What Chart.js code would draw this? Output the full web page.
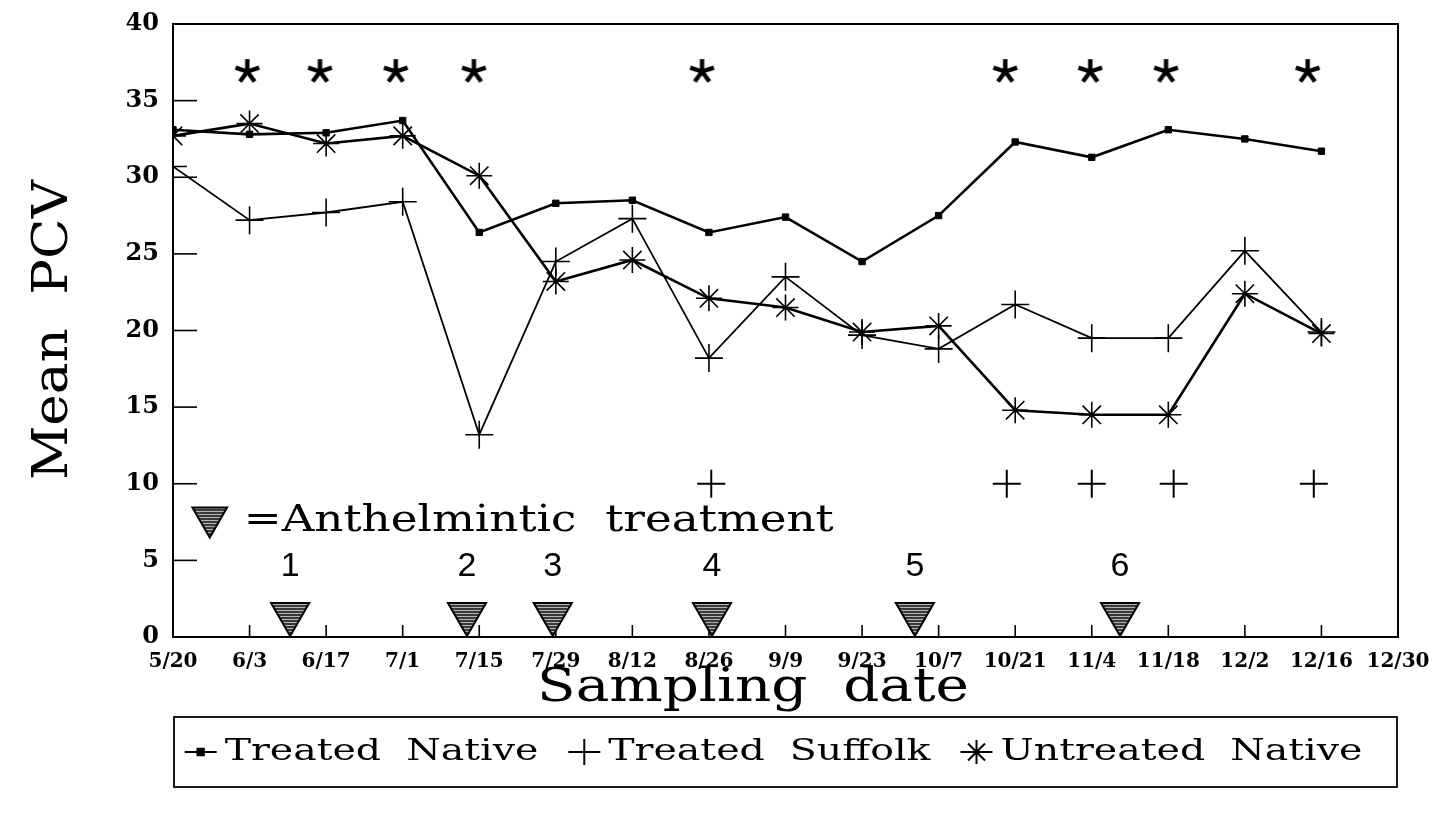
<!DOCTYPE html>
<html><head><meta charset="utf-8">
<script src="https://cdn.jsdelivr.net/npm/chart.js@4.4.1/dist/chart.umd.min.js"></script>
<style>html,body{margin:0;padding:0;background:#fff;overflow:hidden}</style>
</head><body>
<canvas id="c" width="1441" height="816" style="display:block;width:1441px;height:816px"></canvas>
<script>
// ---------- data ----------
const dateLabels = ['5/20','6/3','6/17','7/1','7/15','7/29','8/12','8/26','9/9','9/23','10/7','10/21','11/4','11/18','12/2','12/16','12/30'];
const treatedNative   = [33.1,32.8,32.9,33.7,26.4,28.3,28.5,26.4,27.4,24.5,27.5,32.3,31.3,33.1,32.5,31.7];
const treatedSuffolk  = [30.7,27.2,27.7,28.4,13.2,24.5,27.3,18.2,23.5,19.7,18.8,21.7,19.5,19.5,25.2,19.9];
const untreatedNative = [32.7,33.5,32.2,32.7,30.1,23.2,24.6,22.1,21.5,19.9,20.3,14.8,14.5,14.5,22.4,19.8];
const sigStarPos = [0.97,1.92,2.91,3.93,6.91,10.87,11.98,12.97,14.82];
const sigStarY = 36.9;
const sigPlusPos = [7.03,10.89,12.0,13.07,14.9];
const sigPlusY = 10;
const treatPos = [1.53,3.84,4.96,7.04,9.69,12.37];
const treatNums = ['1','2','3','4','5','6'];
const treatY = 1.5;
const treatNumY = 4.6;
const noteMarkerPos = 0.48;
const noteMarkerY = 7.8;
const noteText = '=Anthelmintic  treatment';
const yTicks = [0,5,10,15,20,25,30,35,40];
const seriesNames = ['Treated  Native','Treated  Suffolk','Untreated  Native'];

// ---------- helpers ----------
const cv = document.getElementById('c');
const ctx0 = cv.getContext('2d');
const pc = document.createElement('canvas'); pc.width = 4; pc.height = 3;
const pg = pc.getContext('2d');
pg.fillStyle = '#3a3a3a'; pg.fillRect(0,0,4,3);
pg.fillStyle = '#b5b5b5'; pg.fillRect(0,1,4,1);
const hatch = ctx0.createPattern(pc, 'repeat');

function makeAsterisk(size){
  const c = document.createElement('canvas'); c.width = c.height = size;
  const g = c.getContext('2d'); g.translate(size/2, size/2);
  g.strokeStyle = '#000'; g.lineWidth = 4.4; g.lineCap = 'butt';
  for (let k = 0; k < 5; k++) {
    const a = -Math.PI/2 + k*2*Math.PI/5;
    g.beginPath(); g.moveTo(0,0); g.lineTo(Math.cos(a)*size*0.46, Math.sin(a)*size*0.46); g.stroke();
  }
  return c;
}
const asteriskImg = makeAsterisk(27);

const toXY = (arr) => arr.map((v,i)=>({x:i, y:v}));
const FONT = 'DejaVu Serif';

function fitText(ctx, text, x, y, font, targetW, align, rot) {
  ctx.save();
  ctx.font = font;
  const w = ctx.measureText(text).width;
  const s = targetW ? targetW / w : 1;
  ctx.translate(x, y);
  if (rot) ctx.rotate(rot);
  ctx.scale(s, 1);
  ctx.textAlign = align || 'center';
  ctx.fillText(text, 0, 0);
  ctx.restore();
  return w * s;
}

const decorPlugin = {
  id: 'decor',
  beforeDatasetsDraw(chart) {
    const {ctx, chartArea:a, scales:{x, y}} = chart;
    ctx.save();
    ctx.strokeStyle = '#000'; ctx.lineWidth = 2;
    ctx.beginPath();
    ctx.moveTo(a.left, a.top); ctx.lineTo(a.right, a.top); ctx.lineTo(a.right, a.bottom);
    ctx.stroke();
    ctx.lineWidth = 1.6;
    for (let i = 1; i < dateLabels.length - 1; i++) {
      const px = x.getPixelForValue(i);
      ctx.beginPath(); ctx.moveTo(px, a.bottom); ctx.lineTo(px, a.bottom - 12); ctx.stroke();
    }
    yTicks.slice(1, -1).forEach(v => {
      const py = y.getPixelForValue(v);
      ctx.beginPath(); ctx.moveTo(a.left, py); ctx.lineTo(a.left + 24, py); ctx.stroke();
    });
    ctx.restore();
  },
  afterDraw(chart) {
    const {ctx, chartArea:a, scales:{x, y}} = chart;
    ctx.save();
    ctx.fillStyle = '#000';
    // axis titles
    ctx.textBaseline = 'middle';
    fitText(ctx, 'Mean  PCV', 55, 330, '48px ' + FONT, 300, 'center', -Math.PI/2);
    ctx.textBaseline = 'alphabetic';
    fitText(ctx, 'Sampling  date', 753, 701, '46px ' + FONT, 432, 'center');
    // note
    fitText(ctx, noteText, x.getPixelForValue(noteMarkerPos) + 34, y.getPixelForValue(noteMarkerY) + 14, '38px ' + FONT, 590, 'left');
    // treatment numbers
    ctx.textBaseline = 'middle';
    treatPos.forEach((p, i) => {
      fitText(ctx, treatNums[i], x.getPixelForValue(p), y.getPixelForValue(treatNumY), '34px Liberation Sans', 0, 'center');
    });
    // legend
    const boxL = a.left + 1, boxR = a.right - 1, boxT = 717, boxB = 787;
    ctx.strokeStyle = '#000'; ctx.lineWidth = 1.8;
    ctx.strokeRect(boxL, boxT, boxR - boxL, boxB - boxT);
    const cy = (boxT + boxB) / 2;
    const font = '29px ' + FONT;
    const sx = 1.36;
    ctx.font = font;
    const items = chart.data.datasets.slice(0,3).map((ds, i) => ({ds, w: ctx.measureText(seriesNames[i]).width * sx}));
    const markW = 32, gapM = 8, gapI = 30;
    const total = items.reduce((s, it) => s + markW + gapM + it.w, 0) + gapI * (items.length - 1);
    let cx = (boxL + boxR) / 2 - total / 2 - 12;
    items.forEach((it, i) => {
      const ds = it.ds;
      ctx.strokeStyle = '#000'; ctx.lineWidth = 2;
      ctx.beginPath(); ctx.moveTo(cx, cy); ctx.lineTo(cx + markW, cy); ctx.stroke();
      Chart.helpers.drawPoint(ctx, {pointStyle: ds.pointStyle, radius: ds.legendRadius, rotation: 0, borderWidth: ds.pointBorderWidth}, cx + markW/2, cy);
      if (ds.pointStyle === 'rect') { ctx.fillStyle = '#000'; ctx.fill(); }
      ctx.fillStyle = '#000';
      ctx.textBaseline = 'middle';
      fitText(ctx, seriesNames[i], cx + markW + gapM, cy, font, it.w, 'left');
      cx += markW + gapM + it.w + gapI;
    });
    ctx.restore();
  }
};

const lineBase = {type:'line', borderColor:'#000', pointBorderColor:'#000', pointBackgroundColor:'#000', tension:0, fill:false};

new Chart(ctx0, {
  data: {
    datasets: [
      Object.assign({}, lineBase, {label:'Treated Native', data: toXY(treatedNative), borderWidth:2.6, pointStyle:'rect', pointRadius:4.5, pointBorderWidth:1, legendRadius:4.5}),
      Object.assign({}, lineBase, {label:'Treated Suffolk', data: toXY(treatedSuffolk), borderWidth:1.8, pointStyle:'cross', pointRadius:14, pointBorderWidth:1.6, legendRadius:13}),
      Object.assign({}, lineBase, {label:'Untreated Native', data: toXY(untreatedNative), borderWidth:2.6, pointStyle:'star', pointRadius:13, pointBorderWidth:1.6, legendRadius:12}),
      {type:'scatter', label:'sig-star', data: sigStarPos.map(p=>({x:p, y:sigStarY})), pointStyle: asteriskImg, pointRadius:13},
      {type:'scatter', label:'sig-plus', data: sigPlusPos.map(p=>({x:p, y:sigPlusY})), pointStyle:'cross', pointRadius:14, borderColor:'#000', pointBorderWidth:2},
      {type:'scatter', label:'treatment', data: treatPos.map(p=>({x:p, y:treatY})), pointStyle:'triangle', rotation:180, pointRadius:22, backgroundColor: hatch, borderColor:'#000', pointBorderWidth:2},
      {type:'scatter', label:'note-marker', data: [{x:noteMarkerPos, y:noteMarkerY}], pointStyle:'triangle', rotation:180, pointRadius:20, backgroundColor: hatch, borderColor:'#000', pointBorderWidth:2}
    ]
  },
  options: {
    responsive: false,
    animation: false,
    devicePixelRatio: 1,
    layout: {padding: {top:18, right:43, left:0, bottom:0}},
    plugins: {legend:{display:false}, tooltip:{enabled:false}},
    events: [],
    scales: {
      x: {
        type:'linear', min:0, max:16,
        afterFit(s){ s.height = 179; s.paddingLeft = 0; s.paddingRight = 0; },
        afterBuildTicks(s){ s.ticks = dateLabels.map((_, i) => ({value:i})); },
        ticks: {autoSkip:false, maxRotation:0, minRotation:0, padding:13, color:'#000',
                font:{family:FONT, weight:'bold', size:20}, callback:(v)=>dateLabels[v]},
        grid: {display:false, drawTicks:false},
        border: {display:true, color:'#000', width:2}
      },
      y: {
        min:0, max:40,
        afterFit(s){ s.width = 173; s.paddingTop = 0; s.paddingBottom = 0; },
        afterBuildTicks(s){ s.ticks = yTicks.map(v => ({value:v})); },
        ticks: {padding:14, color:'#000', font:{family:FONT, weight:'bold', size:24}},
        grid: {display:false, drawTicks:false},
        border: {display:true, color:'#000', width:2}
      }
    }
  },
  plugins: [decorPlugin]
});
</script>
</body></html>
